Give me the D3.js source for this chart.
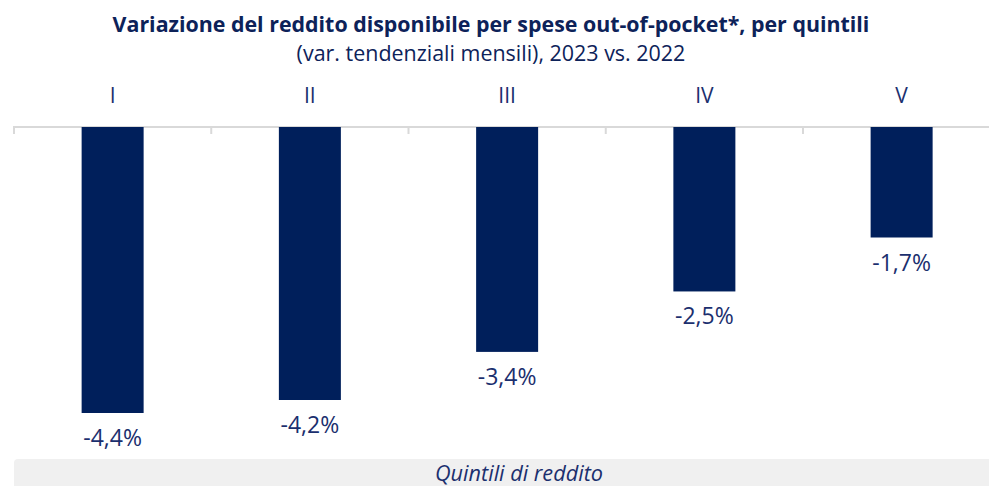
<!DOCTYPE html>
<html><head><meta charset="utf-8">
<script src="https://cdn.jsdelivr.net/npm/d3@7"></script>
<style>
html,body{margin:0;padding:0;background:#fff;}
svg{display:block;font-family:"Open Sans",sans-serif;}
</style></head>
<body><svg id="c" width="989" height="486"></svg>
<script>
const categories = ["I","II","III","IV","V"];
const values = [-4.4,-4.2,-3.46,-2.53,-1.7];
const valueLabels = ["-4,4%","-4,2%","-3,4%","-2,5%","-1,7%"];
const titleText = "Variazione del reddito disponibile per spese out-of-pocket*, per quintili";
const subtitleText = "(var. tendenziali mensili), 2023 vs. 2022";
const axisTitle = "Quintili di reddito";

const svg = d3.select("#c");
const navy = "#001f5b", textCol = "#1b2f6e";
const x0 = 14, catW = 197.25;
const x = d3.scaleBand().domain(categories).range([x0, x0 + catW*5]).paddingInner(0).paddingOuter(0);
const y = d3.scaleLinear().domain([0,-4.4]).range([127, 413]);

function fitText(sel, w){
  const n = sel.node(); const fs = parseFloat(sel.attr("font-size"));
  const len = n.getComputedTextLength();
  sel.attr("font-size", fs * w / len);
}
const t = svg.append("text").attr("x",491).attr("y",32).attr("text-anchor","middle")
  .attr("font-weight","bold").attr("font-size",19).attr("fill","#0d2259").text(titleText);
fitText(t, 757);
const st = svg.append("text").attr("x",491).attr("y",61).attr("text-anchor","middle")
  .attr("font-size",19).attr("fill","#0d2259").text(subtitleText);
fitText(st, 389);

// bottom band
svg.append("path").attr("fill","#f0f0f0")
  .attr("d", `M14,486 L14,463 Q14,459 18,459 L989,459 L989,486 Z`);
const at = svg.append("text").attr("x",519).attr("y",481).attr("text-anchor","middle")
  .attr("font-style","italic").attr("font-size",20).attr("fill",textCol).text(axisTitle);
fitText(at, 168);

// axis line + ticks
const g = svg.append("g");
g.append("line").attr("x1",x0).attr("x2",989).attr("y1",127).attr("y2",127)
  .attr("stroke","#d9d9d9").attr("stroke-width",2);
g.selectAll("line.tk").data(categories).join("line").attr("class","tk")
  .attr("x1",d=>x(d)).attr("x2",d=>x(d)).attr("y1",126).attr("y2",134)
  .attr("stroke","#d9d9d9").attr("stroke-width",2);

// category labels
svg.selectAll("text.cat").data(categories).join("text").attr("class","cat")
  .attr("x",d=>x(d)+x.bandwidth()/2).attr("y",103).attr("text-anchor","middle")
  .attr("font-size",21).attr("fill",textCol).text(d=>d);

const bw = 62;
const data = categories.map((c,i)=>({c, v:values[i], l:valueLabels[i]}));
svg.selectAll("rect.bar").data(data).join("rect").attr("class","bar")
  .attr("x",d=>x(d.c)+x.bandwidth()/2-bw/2).attr("width",bw)
  .attr("y",y(0)).attr("height",d=>y(d.v)-y(0)).attr("fill",navy);

svg.selectAll("text.val").data(data).join("text").attr("class","val")
  .attr("x",d=>x(d.c)+x.bandwidth()/2).attr("y",d=>y(d.v)+33).attr("text-anchor","middle")
  .attr("font-size",23).attr("fill",textCol).text(d=>d.l);
</script></body></html>
